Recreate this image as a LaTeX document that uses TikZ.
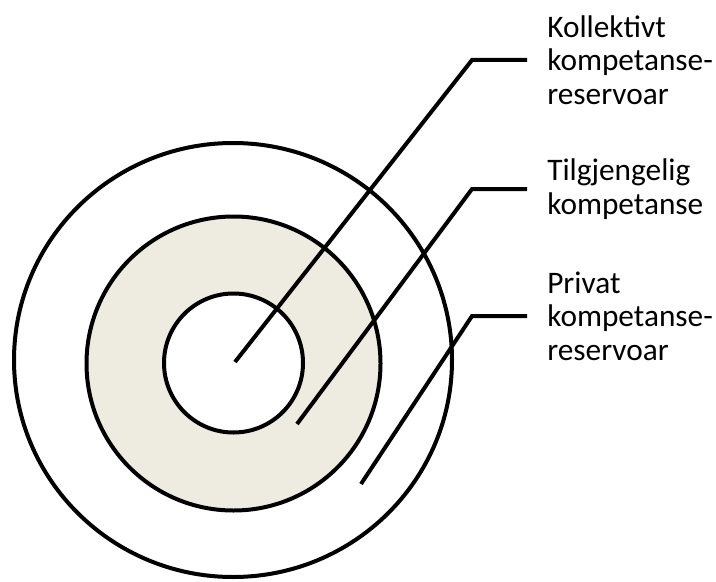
\documentclass[tikz,border=0pt]{standalone}
\usepackage{fontspec}
\setmainfont{Carlito}
\definecolor{ringfill}{RGB}{238,236,225}
\begin{document}
\begin{tikzpicture}[x=0.75pt,y=0.75pt,yscale=-1,xscale=1,
    ring/.style={line width=3pt},
    leader/.style={line width=3pt},
    lbl/.style={anchor=west, inner xsep=15pt, inner ysep=0pt, align=left, font=\fontsize{23.5}{25.2}\selectfont}]
    \useasboundingbox (0,0) rectangle (716,581);
    %Shape: Circle (private reservoir)
    \draw [ring, fill=white] (233,360) ellipse [x radius=219, y radius=217];
    %Shape: Circle (available competence)
    \draw [ring, fill=ringfill] (233.5,363.5) circle [radius=147];
    %Shape: Circle (collective reservoir)
    \draw [ring, fill=white] (233.5,363) circle [radius=69.5];

    % Text Node
    \node [lbl] (kollektiv) at (527,60) {Kollektivt\\kompetanse-\\reservoar};
    % Text Node
    \node [lbl] (tilgjengelig) at (527,189) {Tilgjengelig\\kompetanse};
    % Text Node
    \node [lbl] (privat) at (527,316) {Privat\\kompetanse-\\reservoar};

    %Straight Lines
    \coordinate (kollektivEnd) at (235,362);
    \coordinate (kollektivBend) at (472,60);
    \draw [leader] (kollektivEnd) -- (kollektivBend) -- (kollektiv.west);
    %Straight Lines
    \coordinate (tilgjengeligEnd) at (297,424);
    \coordinate (tilgjengeligBend) at (472,189);
    \draw [leader] (tilgjengeligEnd) -- (tilgjengeligBend) -- (tilgjengelig.west);
    %Straight Lines
    \coordinate (privatEnd) at (361,484);
    \coordinate (privatBend) at (472,316);
    \draw [leader] (privatEnd) -- (privatBend) -- (privat.west);
\end{tikzpicture}
\end{document}
